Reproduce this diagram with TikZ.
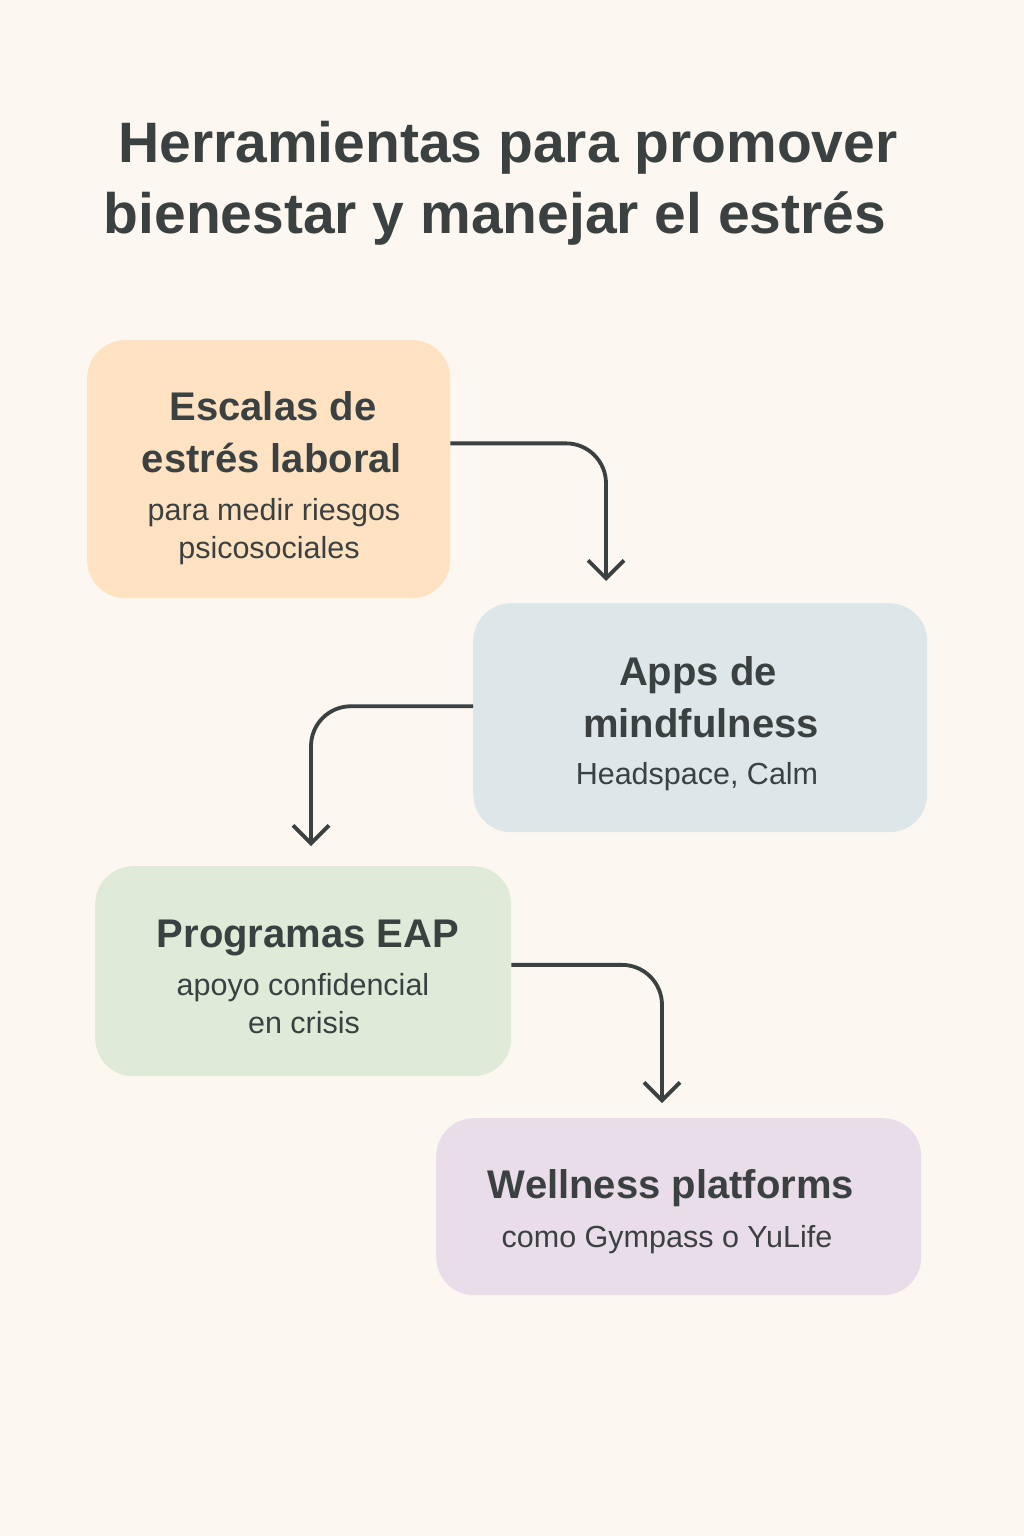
\documentclass[tikz,border=0pt]{standalone}
\usepackage{fontspec}
\setmainfont{Liberation Sans}
\usetikzlibrary{arrows.meta,calc}
\definecolor{bg}{HTML}{FCF7F1}
\definecolor{ink}{HTML}{3B4040}
\definecolor{peach}{HTML}{FEE2C2}
\definecolor{bluegray}{HTML}{DDE7E9}
\definecolor{sage}{HTML}{E0EAD8}
\definecolor{lav}{HTML}{E9DDE9}
\tikzset{
  box/.style={rounded corners=38pt, inner sep=0pt, anchor=north west},
  ttl/.style={anchor=base, text=ink, font=\fontsize{57}{57}\selectfont\bfseries, inner sep=0pt},
  bt/.style={anchor=base, text=ink, font=\fontsize{40}{40}\selectfont\bfseries, inner sep=0pt},
  st/.style={anchor=base, text=ink, font=\fontsize{30.5}{30.5}\selectfont, inner sep=0pt},
  arr/.style={draw=ink, line width=3.8pt, rounded corners=40pt,
    -{Straight Barb[length=18pt, width=36pt, line width=3.8pt]}},
}
\begin{document}
\begin{tikzpicture}[x=1pt,y=-1pt]
\fill[bg] (0,0) rectangle (1024,1536);
\useasboundingbox (0,0) rectangle (1024,1536);
% title
\node[ttl] (t1) at (508,162) {Herramientas para promover};
\node[ttl] (t2) at (495,233) {bienestar y manejar el estrés};
% boxes
\node[box, fill=peach, minimum width=363pt, minimum height=258pt] (b1) at (87,340) {};
\node[box, fill=bluegray, minimum width=454pt, minimum height=229pt] (b2) at (473,603) {};
\node[box, fill=sage, minimum width=416pt, minimum height=210pt] (b3) at (95,866) {};
\node[box, fill=lav, minimum width=485pt, minimum height=177pt] (b4) at (436,1118) {};
% box texts
\node[bt] (b1a) at (273,420) {Escalas de};
\node[bt] (b1b) at (272,472) {estrés laboral};
\node[st] (b1c) at (274,520) {para medir riesgos};
\node[st] (b1d) at (269,558) {psicosociales};
\node[bt] (b2a) at (698,685) {Apps de};
\node[bt] (b2b) at (701,737) {mindfulness};
\node[st] (b2c) at (697,784) {Headspace, Calm};
\node[bt] (b3a) at (308,947) {Programas EAP};
\node[st] (b3b) at (303,995) {apoyo confidencial};
\node[st] (b3c) at (304,1033) {en crisis};
\node[bt] (b4a) at (671,1198) {Wellness platforms};
\node[st] (b4b) at (667,1247) {como Gympass o YuLife};
% connectors
\coordinate (e1) at ($(b2.north west)+(133,-22)$);
\coordinate (e2) at ($(b3.north west)+(216,-20)$);
\coordinate (e3) at ($(b4.north west)+(226,-15)$);
\draw[arr] ($(b1.north east)!0.4!(b1.south east)$) -| (e1);
\draw[arr] ($(b2.north west)!0.45!(b2.south west)$) -| (e2);
\draw[arr] ($(b3.north east)!0.47!(b3.south east)$) -| (e3);
\end{tikzpicture}
\end{document}
